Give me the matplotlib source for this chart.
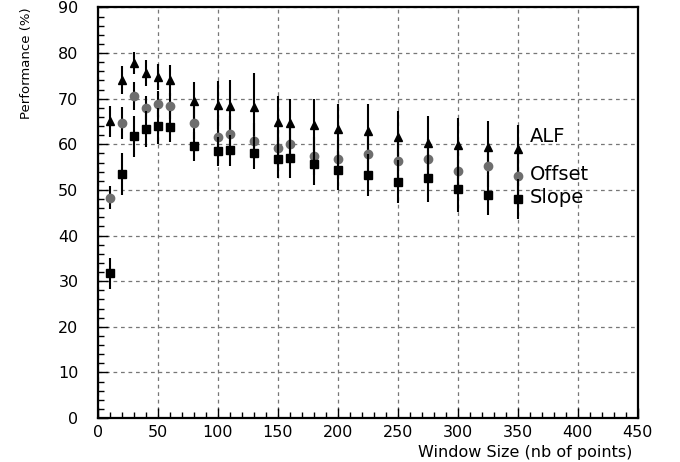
import matplotlib
matplotlib.use("Agg")
import matplotlib.pyplot as plt
from matplotlib.ticker import MultipleLocator

# window sizes (nb of points)
window = [10, 20, 30, 40, 50, 60, 80, 100, 110, 130, 150, 160, 180, 200, 225, 250, 275, 300, 325, 350]

alf = [65.0, 74.1, 77.8, 75.6, 74.7, 74.0, 69.5, 68.6, 68.3, 68.1, 64.9, 64.7, 64.3, 63.3, 62.9, 61.5, 60.2, 59.9, 59.3, 58.9]
alf_err = [3.5, 3.0, 2.5, 2.9, 2.9, 3.4, 4.1, 5.2, 5.8, 7.5, 5.6, 5.3, 5.6, 5.6, 5.9, 5.9, 5.9, 5.8, 5.8, 5.4]

offset = [48.3, 64.7, 70.6, 67.9, 68.8, 68.4, 64.7, 61.6, 62.3, 60.7, 59.2, 60.0, 57.5, 56.7, 57.9, 56.4, 56.7, 54.2, 55.2, 53.0]
offset_err = [2.5, 3.5, 3.0, 2.6, 2.8, 2.9, 3.5, 4.0, 4.0, 4.0, 4.0, 4.0, 4.2, 4.2, 4.3, 4.3, 4.5, 4.5, 4.5, 4.5]

slope = [31.7, 53.5, 61.8, 63.4, 64.0, 63.9, 59.6, 58.5, 58.7, 58.0, 56.8, 56.9, 55.7, 54.3, 53.3, 51.8, 52.6, 50.2, 48.9, 48.0]
slope_err = [3.4, 4.7, 4.5, 3.9, 3.9, 3.4, 3.2, 3.2, 3.4, 3.5, 4.2, 4.2, 4.6, 4.3, 4.6, 4.7, 5.2, 5.1, 4.4, 4.4]

fig = plt.figure(figsize=(6.8, 4.62), dpi=100)
ax = fig.add_axes([0.144, 0.095, 0.794, 0.889])

ax.errorbar(window, alf, yerr=alf_err, fmt="^", color="black", ms=6,
            elinewidth=1.5, capsize=0, zorder=3)
ax.errorbar(window, offset, yerr=offset_err, fmt="o", mfc="#6e6e6e", mec="#6e6e6e",
            ecolor="black", ms=6, elinewidth=1.5, capsize=0, zorder=3)
ax.errorbar(window, slope, yerr=slope_err, fmt="s", color="black", ms=5.5,
            elinewidth=1.5, capsize=0, zorder=4)

# series names next to the last points
ax.text(360, 61.6, "ALF", fontsize=14, va="center", ha="left")
ax.text(360, 53.4, "Offset", fontsize=14, va="center", ha="left")
ax.text(360, 48.4, "Slope", fontsize=14, va="center", ha="left")

ax.set_xlim(0, 450)
ax.set_ylim(0, 90)
ax.xaxis.set_major_locator(MultipleLocator(50))
ax.xaxis.set_minor_locator(MultipleLocator(10))
ax.yaxis.set_major_locator(MultipleLocator(10))
ax.yaxis.set_minor_locator(MultipleLocator(2))
ax.grid(True, which="major", color="#777777", linestyle=(0, (3, 3)), linewidth=0.9)
ax.set_axisbelow(True)

ax.tick_params(which="both", direction="in", top=False, right=False, labelsize=11.5)
ax.tick_params(which="major", length=7, width=1.0)
ax.tick_params(which="minor", length=4, width=1.0)
ax.tick_params(axis="y", pad=14)
ax.tick_params(axis="x", pad=5)
for s in ax.spines.values():
    s.set_linewidth(1.6)

ax.set_xlabel("Window Size (nb of points)", fontsize=11.5, loc="right")
ax.xaxis.set_label_coords(0.99, -0.066)
ax.set_ylabel("Performance (%)", fontsize=9.5, loc="top", labelpad=18)

fig.savefig("out.png", dpi=100)
